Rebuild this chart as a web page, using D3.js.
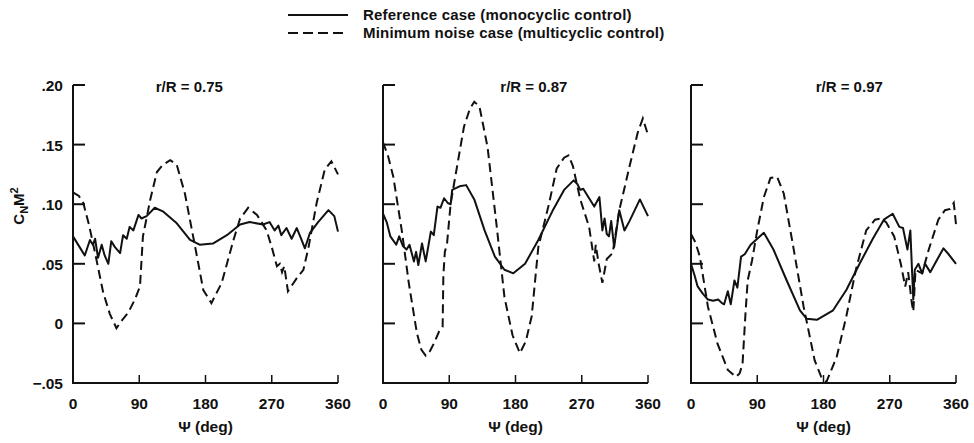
<!DOCTYPE html>
<html>
<head>
<script src="https://d3js.org/d3.v7.min.js"></script>
<style>
  body { margin: 0; background: white; }
  text { font-family: "Liberation Sans", Arial, sans-serif; font-weight: bold; fill: #111; }
</style>
</head>
<body>
<svg id="chart" width="974" height="443"></svg>
<script>
// psi (deg), CN M^2
const radii = ["0.75", "0.87", "0.97"];
const yTicks = [-0.05, 0, 0.05, 0.10, 0.15, 0.20];
const xTicks = [0, 90, 180, 270, 360];

const ref075 = [[0,.073],[9,.064],[16,.057],[23,.070],[27,.066],[30,.071],[34,.055],[39,.066],[43,.057],[48,.050],
  [52,.069],[57,.064],[64,.059],[68,.074],[73,.071],[77,.081],[82,.078],[89,.091],[93,.088],[100,.090],
  [111,.097],[122,.094],[141,.084],[159,.070],[172,.066],[190,.067],[209,.074],[227,.083],[240,.085],[258,.083],
  [267,.085],[274,.078],[279,.082],[283,.074],[290,.080],[297,.071],[304,.080],[310,.071],[315,.063],[322,.076],
  [333,.085],[347,.095],[355,.090],[360,.077]];
const min075 = [[0,.110],[8,.107],[14,.101],[22,.082],[30,.059],[41,.026],[50,.008],[59,-.004],[67,.003],[75,.009],
  [84,.020],[91,.031],[95,.073],[105,.104],[114,.127],[122,.133],[132,.137],[141,.133],[152,.109],[166,.064],
  [177,.028],[188,.017],[202,.034],[218,.070],[227,.088],[238,.097],[250,.091],[263,.078],[270,.064],[277,.048],
  [281,.050],[284,.043],[287,.048],[292,.027],[304,.038],[313,.045],[320,.064],[331,.101],[342,.129],[351,.136],[360,.125]];

const ref087 = [[0,.092],[5,.085],[10,.073],[18,.066],[22,.073],[27,.065],[32,.062],[36,.066],[42,.052],[45,.060],
  [48,.049],[53,.067],[58,.052],[65,.077],[69,.074],[74,.098],[78,.097],[83,.105],[88,.101],[92,.100],
  [94,.112],[104,.115],[113,.116],[124,.104],[138,.078],[152,.056],[165,.045],[177,.042],[193,.050],[211,.070],
  [230,.094],[246,.112],[259,.120],[264,.117],[268,.112],[272,.113],[280,.105],[287,.098],[294,.106],[298,.078],
  [301,.088],[304,.075],[307,.073],[310,.086],[314,.064],[321,.095],[328,.078],[335,.086],[349,.104],[360,.090]];
const min087 = [[0,.152],[7,.140],[14,.123],[26,.076],[35,.034],[46,-.008],[52,-.022],[58,-.027],[64,-.023],[69,-.017],
  [76,-.007],[81,-.003],[82,.040],[84,.060],[87,.067],[92,.101],[99,.126],[110,.165],[118,.180],[124,.186],
  [131,.182],[142,.148],[154,.084],[165,.022],[176,-.010],[186,-.025],[194,-.015],[202,.006],[211,.064],[225,.099],
  [236,.130],[246,.139],[252,.141],[258,.132],[268,.104],[280,.081],[287,.052],[289,.066],[293,.050],[298,.034],
  [304,.054],[312,.059],[321,.095],[335,.132],[346,.160],[353,.172],[360,.158]];

const ref097 = [[0,.050],[5,.040],[9,.031],[16,.025],[23,.020],[30,.019],[37,.020],[42,.017],[45,.016],[50,.027],
  [54,.016],[59,.036],[63,.030],[68,.056],[73,.058],[81,.066],[90,.071],[99,.076],[112,.062],[130,.036],
  [148,.011],[157,.004],[171,.003],[193,.011],[211,.028],[229,.050],[247,.071],[262,.087],[274,.092],[283,.081],
  [288,.080],[294,.062],[298,.078],[300,.048],[302,.020],[304,.045],[309,.050],[314,.042],[318,.050],[325,.043],
  [333,.052],[343,.063],[350,.058],[360,.050]];
const min097 = [[0,.075],[6,.068],[12,.056],[23,.014],[36,-.017],[50,-.039],[61,-.045],[66,-.042],[70,-.034],[74,.008],
  [77,.036],[83,.053],[90,.078],[99,.106],[108,.122],[117,.123],[126,.109],[139,.064],[153,.014],[168,-.031],
  [177,-.045],[184,-.049],[198,-.028],[211,.006],[224,.045],[238,.078],[250,.087],[258,.088],[265,.085],[276,.073],
  [285,.050],[291,.031],[295,.043],[300,.017],[302,.010],[305,.045],[314,.042],[323,.062],[336,.087],[345,.095],
  [352,.096],[357,.101],[360,.083]];

const refSeries = [ref075, ref087, ref097];
const minSeries = [min075, min087, min097];

const svg = d3.select("#chart");
const panelLeft = [73, 383, 691];
const panelW = 265;
const plotTop = 85, plotBottom = 383;

const y = d3.scaleLinear().domain([-0.05, 0.20]).range([plotBottom, plotTop]);

// legend
const leg = svg.append("g");
leg.append("line").attr("x1", 288).attr("x2", 348).attr("y1", 15).attr("y2", 15)
  .attr("stroke", "#111").attr("stroke-width", 2);
leg.append("line").attr("x1", 288).attr("x2", 348).attr("y1", 33).attr("y2", 33)
  .attr("stroke", "#111").attr("stroke-width", 2).attr("stroke-dasharray", "10,5");
leg.append("text").attr("x", 363).attr("y", 20).style("font-size", "15px").style("letter-spacing", "0.2px")
  .text("Reference case (monocyclic control)");
leg.append("text").attr("x", 363).attr("y", 38).style("font-size", "15px").style("letter-spacing", "0.2px")
  .text("Minimum noise case (multicyclic control)");

// y label
const yl = svg.append("text").attr("transform", "translate(24,206) rotate(-90)")
  .attr("text-anchor", "middle").style("font-size", "15px");
yl.append("tspan").text("C");
yl.append("tspan").attr("dy", 4).style("font-size", "11px").text("N");
yl.append("tspan").attr("dy", -4).text("M");
yl.append("tspan").attr("dy", -6).style("font-size", "11px").text("2");

const line = d3.line();

radii.forEach((r, i) => {
  const x = d3.scaleLinear().domain([0, 360]).range([panelLeft[i], panelLeft[i] + panelW]);
  const x0 = x(0);
  const g = svg.append("g");

  // axes lines
  g.append("line").attr("x1", x0).attr("x2", x0).attr("y1", plotTop).attr("y2", plotBottom + 1)
    .attr("stroke", "#111").attr("stroke-width", 2);
  g.append("line").attr("x1", x0).attr("x2", x(360)).attr("y1", plotBottom).attr("y2", plotBottom)
    .attr("stroke", "#111").attr("stroke-width", 2);

  // y ticks pointing inward
  g.selectAll("line.ytick").data(yTicks).join("line").attr("class", "ytick")
    .attr("x1", x0).attr("x2", x0 + 12)
    .attr("y1", d => y(d)).attr("y2", d => y(d))
    .attr("stroke", "#111").attr("stroke-width", 2);
  if (i === 0) {
    g.selectAll("text.ylab").data(yTicks).join("text").attr("class", "ylab")
      .attr("x", 63).attr("y", d => y(d) + 6).attr("text-anchor", "end")
      .style("font-size", "15.5px")
      .text(d => d === 0 ? "0" : d3.format(".2f")(d).replace("0.", "."));
  }

  // x ticks pointing up
  g.selectAll("line.xtick").data(xTicks.slice(1)).join("line").attr("class", "xtick")
    .attr("x1", d => x(d)).attr("x2", d => x(d))
    .attr("y1", plotBottom).attr("y2", plotBottom - 8)
    .attr("stroke", "#111").attr("stroke-width", 1.5);
  g.selectAll("text.xlab").data(xTicks).join("text").attr("class", "xlab")
    .attr("x", d => x(d)).attr("y", 409).attr("text-anchor", "middle")
    .style("font-size", "15.5px").text(d => d);
  g.append("text").attr("x", x(180)).attr("y", 432).attr("text-anchor", "middle")
    .style("font-size", "15.5px").text("Ψ (deg)");

  g.append("text").attr("x", x([158, 205, 215][i])).attr("y", 92).attr("text-anchor", "middle")
    .style("font-size", "15px").text("r/R = " + r);

  line.x(d => x(d[0])).y(d => y(d[1]));
  g.append("path").datum(refSeries[i]).attr("d", line)
    .attr("fill", "none").attr("stroke", "#111").attr("stroke-width", 2).attr("stroke-linejoin", "round");
  g.append("path").datum(minSeries[i]).attr("d", line)
    .attr("fill", "none").attr("stroke", "#111").attr("stroke-width", 2).attr("stroke-dasharray", "9,5");
});
</script>
</body>
</html>
